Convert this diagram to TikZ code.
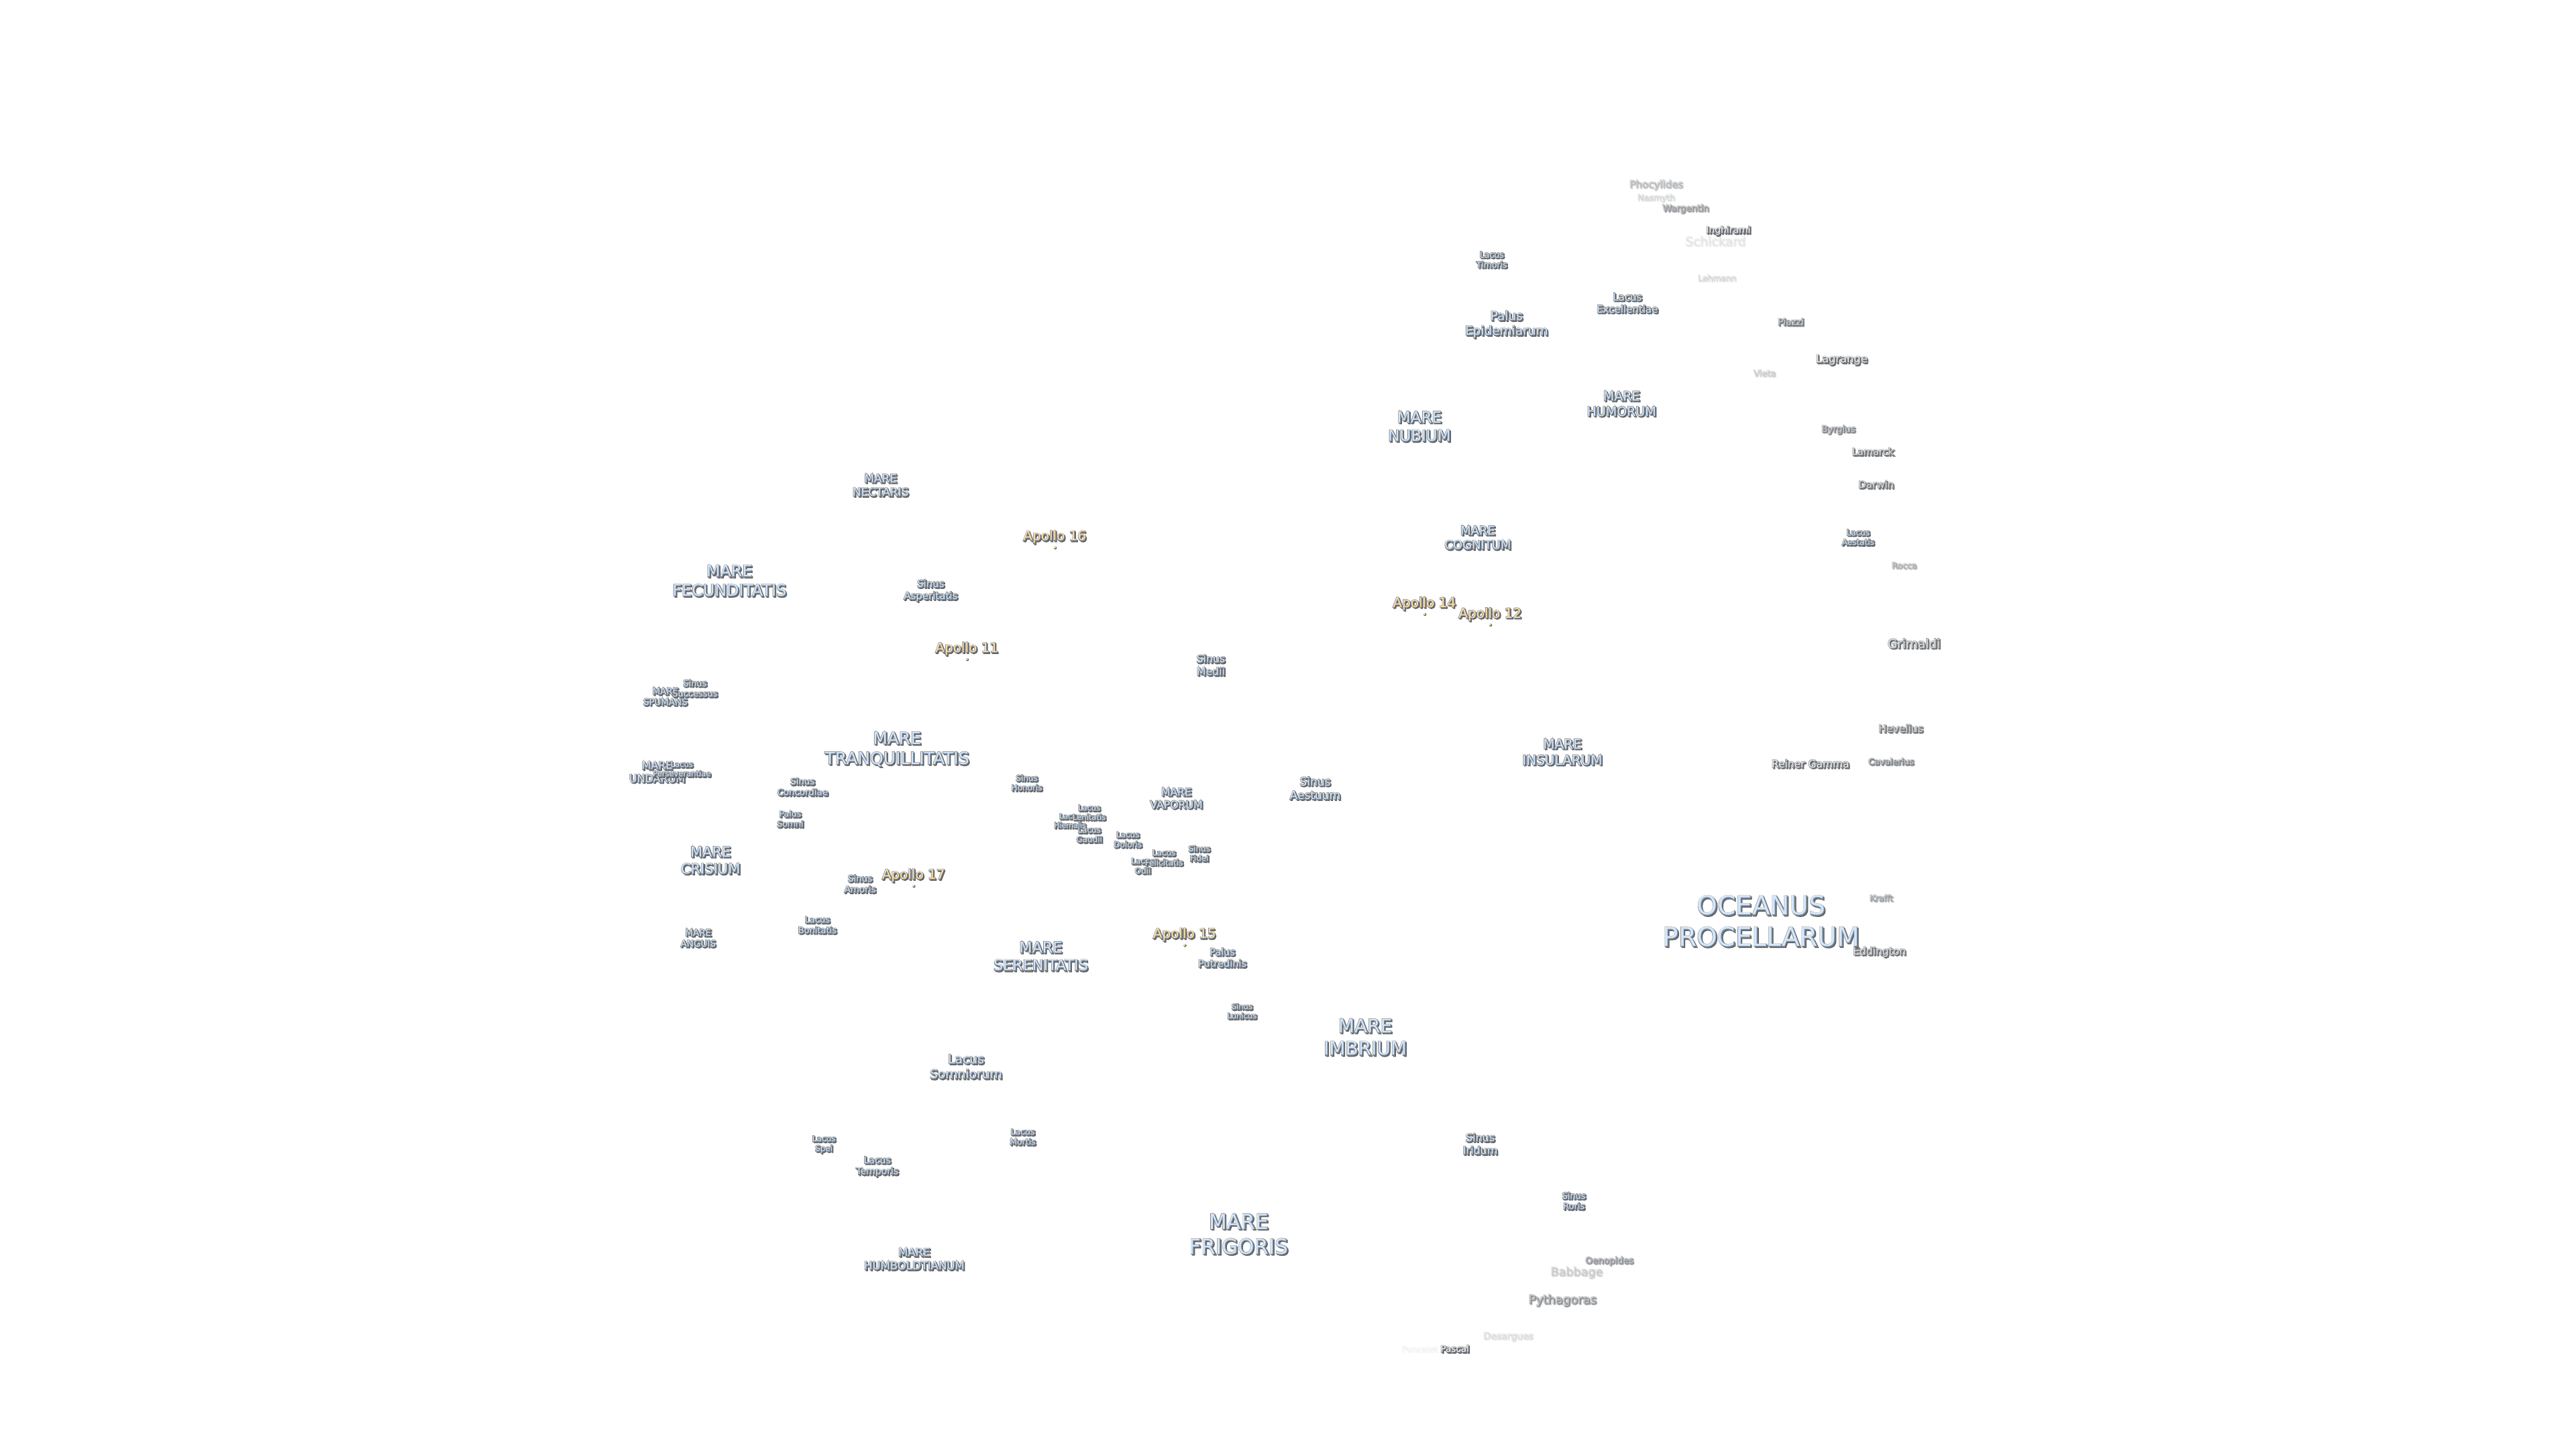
\documentclass[tikz,border=0pt]{standalone}
\usepackage{fontspec}
\setmainfont{DejaVu Sans}
\definecolor{seablue}{HTML}{D2E7FF}
\definecolor{apollotan}{HTML}{FFE2AC}
\definecolor{rimdark}{HTML}{82868A}
\definecolor{shadowdark}{HTML}{5E6165}
\newlength\px \setlength\px{0.01cm}
\newcommand\stk[1]{\begin{tabular}{@{}c@{}}#1\end{tabular}}
\newcommand\strokeon[1]{\special{pdf:code 2 Tr #1 w}}
\newcommand\strokeoff{\special{pdf:code 0 Tr}}
\newcommand\layers[3]{%
  \fontsize{#1pt}{1.2\dimexpr #1pt\relax}\selectfont
  \makebox[0pt][l]{\hspace{1.6\px}\raisebox{-1.6\px}{\color{shadowdark}\strokeon{0.45}\stk{#3}\strokeoff}}%
  \makebox[0pt][l]{\color{rimdark}\strokeon{0.5}\stk{#3}\strokeoff}%
  {\color{#2}\stk{#3}}}
\newcommand\place[6]{%
  \pgfmathsetmacro\fs{#3*0.2845}%
  \pgfmathsetmacro\op{(#5)^1.25}%
  \node[opacity=\op,inner sep=0pt,align=center,yshift=-2.4\px] (#1) at (#2) {\layers{\fs}{#4}{#6}};}
\newcommand\sea[4]{\place{#1}{#2}{#3}{seablue}{1}{#4}}
\newcommand\crater[5]{\place{#1}{#2}{#3}{white}{#4}{#5}}
\newcommand\apollo[2]{%
  \place{ap#1}{#2}{20}{apollotan}{1}{Apollo #1}%
  \fill[shadowdark] ([xshift=0.8\px,yshift=-14.8\px]ap#1.center) circle (2.2\px);
  \fill[apollotan] ([yshift=-14\px]ap#1.center) circle (1.8\px);}
\begin{document}
\begin{tikzpicture}[x=0.02449cm,y=-0.02449cm]
\path[use as bounding box,fill=white] (0,0) rectangle (38.4cm,-21.6cm);
% craters
\crater{phoc}{1008,112}{15}{.28}{Phocylides}
\crater{nasm}{1008,120}{12.5}{.15}{Nasmyth}
\crater{warg}{1026,126.5}{13.5}{.45}{Wargentin}
\crater{schi}{1044,147}{18.6}{.1}{Schickard}
\crater{ingh}{1052,140}{13.9}{.95}{Inghirami}
\crater{lehm}{1045,169}{12.3}{.15}{Lehmann}
\crater{piaz}{1090,196}{13.8}{.7}{Piazzi}
\crater{lagr}{1121,218.5}{16.3}{.9}{Lagrange}
\crater{viet}{1074,227}{13}{.2}{Vieta}
\crater{byrg}{1119,261}{13.5}{.6}{Byrgius}
\crater{lama}{1140,275}{14.5}{.8}{Lamarck}
\crater{darw}{1142,295}{15}{.75}{Darwin}
\crater{rocc}{1159,344}{12.5}{.35}{Rocca}
\crater{grim}{1165,392}{18.5}{.8}{Grimaldi}
\crater{heve}{1157,443.5}{15.5}{.7}{Hevelius}
\crater{cava}{1151,463.5}{13}{.6}{Cavalerius}
\crater{rein}{1102,465}{15.5}{.9}{Reiner Gamma}
\crater{kraf}{1145,546.5}{12.5}{.4}{Krafft}
\crater{eddi}{1144,579}{15.5}{.8}{Eddington}
\crater{oeno}{979.5,767}{13.5}{.5}{Oenopides}
\crater{babb}{959.5,774}{17.5}{.2}{Babbage}
\crater{pyth}{951,791}{18}{.5}{Pythagoras}
\crater{desa}{918,813}{14}{.13}{Desargues}
\crater{ponc}{864,821}{12.5}{.05}{Poncelet}
\crater{pasc}{885.5,821}{13.5}{1}{Pascal}
% seas
\sea{ltim}{908,158}{12.5}{Lacus\\Timoris}
\sea{lexc}{990.5,184.5}{15}{Lacus\\Excellentiae}
\sea{pepi}{917,197}{18.5}{Palus\\Epidemiarum}
\sea{mnub}{864,260}{23}{MARE\\NUBIUM}
\sea{mhum}{987,246}{19}{MARE\\HUMORUM}
\sea{laes}{1131,327}{12}{Lacus\\Aestatis}
\sea{mnec}{536,295.5}{17}{MARE\\NECTARIS}
\sea{mfec}{444,354}{23.8}{MARE\\FECUNDITATIS}
\sea{mcog}{899.5,327.5}{18}{MARE\\COGNITUM}
\sea{sasp}{566.5,359}{15}{Sinus\\Asperitatis}
\sea{smed}{737,405}{15.7}{Sinus\\Medii}
\sea{mins}{951,458}{20}{MARE\\INSULARUM}
\sea{mtra}{546,456}{25}{MARE\\TRANQUILLITATIS}
\sea{mspu}{405,424}{13.4}{MARE\\SPUMANS}
\sea{ssuc}{423,419}{13}{Sinus\\Successus}
\sea{mund}{400,470}{16}{MARE\\UNDARUM}
\sea{lper}{415,468}{11.5}{Lacus\\Perseverantiae}
\sea{scon}{488.5,479}{13.4}{Sinus\\Concordiae}
\sea{psom}{481,498.5}{12.5}{Palus\\Somni}
\sea{shon}{625,476.5}{12}{Sinus\\Honoris}
\sea{mvap}{716,486}{15.7}{MARE\\VAPORUM}
\sea{saes}{800.5,480}{17}{Sinus\\Aestuum}
\sea{lhie}{651.3,499.5}{11}{Lacus\\Hiemalis}
\sea{llen}{663,494.5}{11.5}{Lacus\\Lenitatis}
\sea{lgau}{663,508}{12}{Lacus\\Gaudii}
\sea{ldol}{686.5,511}{12}{Lacus\\Doloris}
\sea{lodi}{695.6,527}{12}{Lacus\\Odii}
\sea{lfel}{708.5,522}{12}{Lacus\\Felicitatis}
\sea{sfid}{730,519.5}{12}{Sinus\\Fidei}
\sea{mcri}{432.5,524}{21}{MARE\\CRISIUM}
\sea{samo}{523.5,538}{13.5}{Sinus\\Amoris}
\sea{lbon}{497.5,563}{13}{Lacus\\Bonitatis}
\sea{mang}{425,571}{13.5}{MARE\\ANGUIS}
\sea{mser}{633.5,582.5}{22.3}{MARE\\SERENITATIS}
\sea{pput}{744,583}{14.5}{Palus\\Putredinis}
\sea{slun}{756,615.5}{11.5}{Sinus\\Lunicus}
\sea{mimb}{831,632}{28}{MARE\\IMBRIUM}
\sea{lsom}{588,649.5}{18.7}{Lacus\\Somniorum}
\sea{ocea}{1072,562}{39}{OCEANUS\\PROCELLARUM}
\sea{siri}{901,696.5}{16}{Sinus\\Iridum}
\sea{lspe}{501.5,696}{12}{Lacus\\Spei}
\sea{lmor}{622.5,692}{12.5}{Lacus\\Mortis}
\sea{ltem}{534,709.5}{14}{Lacus\\Temporis}
\sea{sror}{958,731}{13}{Sinus\\Roris}
\sea{mhub}{556.5,766.5}{16.5}{MARE\\HUMBOLDTIANUM}
\sea{mfri}{754,752}{31}{MARE\\FRIGORIS}
% landing sites
\apollo{16}{642,326.5}
\apollo{14}{867,367}
\apollo{12}{907,373.5}
\apollo{11}{588.5,394.5}
\apollo{17}{556,532.5}
\apollo{15}{721,568.5}
\end{tikzpicture}
\end{document}
